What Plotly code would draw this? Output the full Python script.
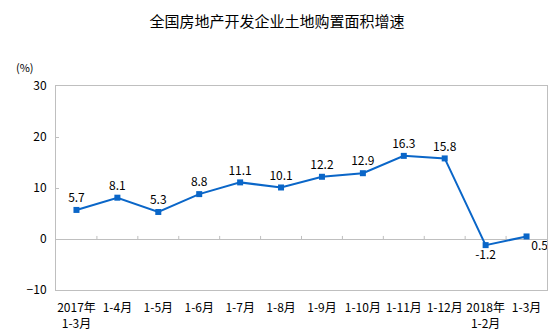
import plotly.graph_objects as go

# 全国房地产开发企业土地购置面积累计增速（%）
periods = ["2017年<br>1-3月", "1-4月", "1-5月", "1-6月", "1-7月", "1-8月",
           "1-9月", "1-10月", "1-11月", "1-12月", "2018年<br>1-2月", "1-3月"]
growth = [5.7, 8.1, 5.3, 8.8, 11.1, 10.1, 12.2, 12.9, 16.3, 15.8, -1.2, 0.5]
label_pos = ["top center"] * 10 + ["bottom center", "bottom right"]
y_ticks = [-10, 0, 10, 20, 30]

blue = "#0a66c8"
grey = "#bfbfbf"
font_family = "Noto Sans CJK SC, Liberation Sans, sans-serif"

x_idx = list(range(len(periods)))

fig = go.Figure()
fig.add_trace(go.Scatter(
    x=x_idx, y=growth,
    mode="lines+markers+text",
    line=dict(color=blue, width=2),
    marker=dict(symbol="square", size=6, color=blue),
    text=[f"{v:g}" for v in growth],
    textposition=label_pos,
    textfont=dict(size=12, color="#000000", family=font_family),
    cliponaxis=False,
    hoverinfo="skip",
))

# short category separators sitting on the zero line
for i in range(len(periods) - 1):
    fig.add_shape(type="line", xref="x", yref="y",
                  x0=i + 0.5, x1=i + 0.5, y0=0, y1=0.6,
                  line=dict(color=grey, width=1))

fig.update_layout(
    width=554, height=336,
    margin=dict(l=56, r=7, t=86, b=46, autoexpand=False),
    paper_bgcolor="white", plot_bgcolor="white",
    showlegend=False,
    font=dict(family=font_family, size=12, color="#000000"),
    title=dict(text="全国房地产开发企业土地购置面积增速",
               x=0.5, xanchor="center", y=0.935, yanchor="middle",
               font=dict(size=15, color="#000000", family=font_family)),
    annotations=[dict(text="(%)", xref="paper", yref="paper",
                      x=-0.085, y=1.095, xanchor="left", yanchor="middle",
                      showarrow=False, font=dict(size=11, color="#000000"))],
)

fig.update_xaxes(
    range=[-0.5, len(periods) - 0.5],
    tickmode="array", tickvals=x_idx, ticktext=periods,
    showline=True, linecolor=grey, linewidth=1, mirror=True,
    showgrid=False, zeroline=False, ticks="",
    tickfont=dict(size=12, color="#000000"),
    ticklabelstandoff=7, automargin=False,
    fixedrange=True,
)
fig.update_yaxes(
    range=[-10, 30], tickmode="array", tickvals=y_ticks,
    showline=True, linecolor=grey, linewidth=1, mirror=True,
    showgrid=False, zeroline=True, zerolinecolor=grey, zerolinewidth=1,
    ticks="inside", ticklen=3, tickcolor=grey,
    tickfont=dict(size=12, color="#000000"),
    ticklabelstandoff=6, automargin=False,
    fixedrange=True,
)

fig.write_html("out.html")
